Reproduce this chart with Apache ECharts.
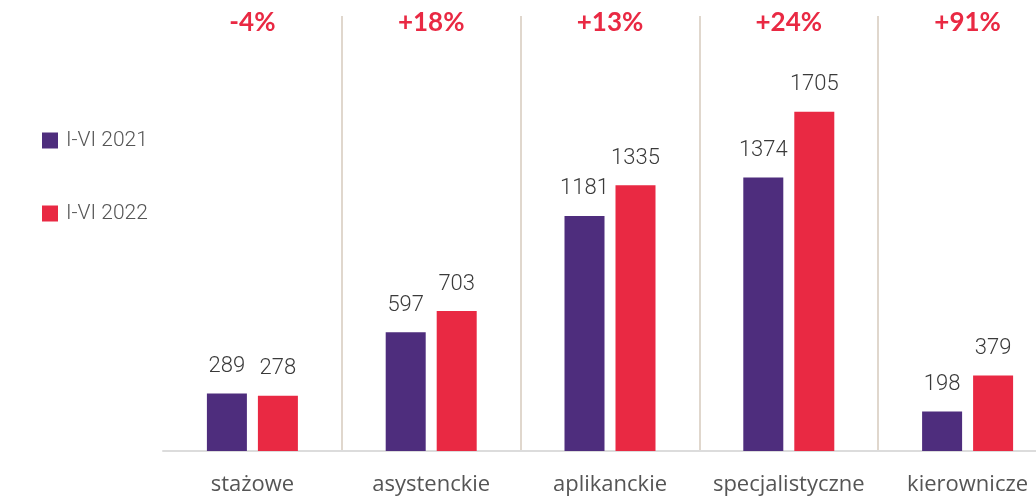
<!DOCTYPE html>
<html>
<head>
<meta charset="utf-8">
<script src="https://cdn.jsdelivr.net/npm/echarts@6/dist/echarts.min.js"></script>
<style>
    html, body { margin: 0; padding: 0; background: #fff; }
    #chart { width: 1036px; height: 498px; }
</style>
</head>
<body>
<div id="chart"></div>
<script>
var categories = ['stażowe', 'asystenckie', 'aplikanckie', 'specjalistyczne', 'kierownicze'];
var changeLabels = ['-4%', '+18%', '+13%', '+24%', '+91%'];
var seriesNames = ['I-VI 2021', 'I-VI 2022'];
var values2021 = [289, 597, 1181, 1374, 198];
var values2022 = [278, 703, 1335, 1705, 379];

var purple = '#4e2d7d';
var red = '#e92943';

var chart = echarts.init(document.getElementById('chart'));

// wspolny styl etykiet nad slupkami
var barLabel = {
    show: true,
    position: 'top',
    distance: 16,
    fontFamily: 'Roboto',
    fontWeight: 300,
    fontSize: 22,
    color: '#3a3a3a'
};

var option = {
    animation: false,
    backgroundColor: '#fff',
    legend: {
        orient: 'vertical',
        left: 42,
        top: 130,
        padding: 0,
        itemWidth: 16,
        itemHeight: 16,
        itemGap: 52,
        icon: 'rect',
        textStyle: {
            fontFamily: 'Roboto',
            fontWeight: 300,
            fontSize: 21,
            color: '#555',
            padding: [0, 0, 0, 3]
        },
        data: seriesNames
    },
    grid: {
        left: 163,
        top: 16,
        width: 894,
        height: 435,
        outerBoundsMode: 'none',
        containLabel: false
    },
    xAxis: [
        {
            type: 'category',
            position: 'bottom',
            data: categories,
            axisLine: { lineStyle: { color: '#dcdcdc', width: 2 } },
            axisTick: { show: false },
            axisLabel: {
                interval: 0,
                margin: 23,
                fontFamily: 'Open Sans',
                fontSize: 22,
                color: '#555'
            },
            splitLine: {
                show: true,
                interval: function (index) {
                    return index > 0;
                },
                lineStyle: { color: '#d6cabd', width: 1.5 }
            }
        },
        {
            type: 'category',
            position: 'top',
            data: changeLabels,
            axisLine: { show: false },
            axisTick: { show: false },
            axisLabel: {
                interval: 0,
                inside: true,
                margin: -6,
                fontFamily: 'Lato',
                fontWeight: 'bold',
                fontSize: 26,
                color: red
            }
        }
    ],
    yAxis: {
        type: 'value',
        min: 0,
        max: 2186,
        show: false
    },
    series: [
        {
            name: seriesNames[0],
            type: 'bar',
            barWidth: 40,
            barGap: '27.5%',
            itemStyle: { color: purple },
            label: barLabel,
            data: values2021
        },
        {
            name: seriesNames[1],
            type: 'bar',
            barWidth: 40,
            barGap: '27.5%',
            itemStyle: { color: red },
            label: barLabel,
            data: values2022
        }
    ]
};

chart.setOption(option);
</script>
</body>
</html>
